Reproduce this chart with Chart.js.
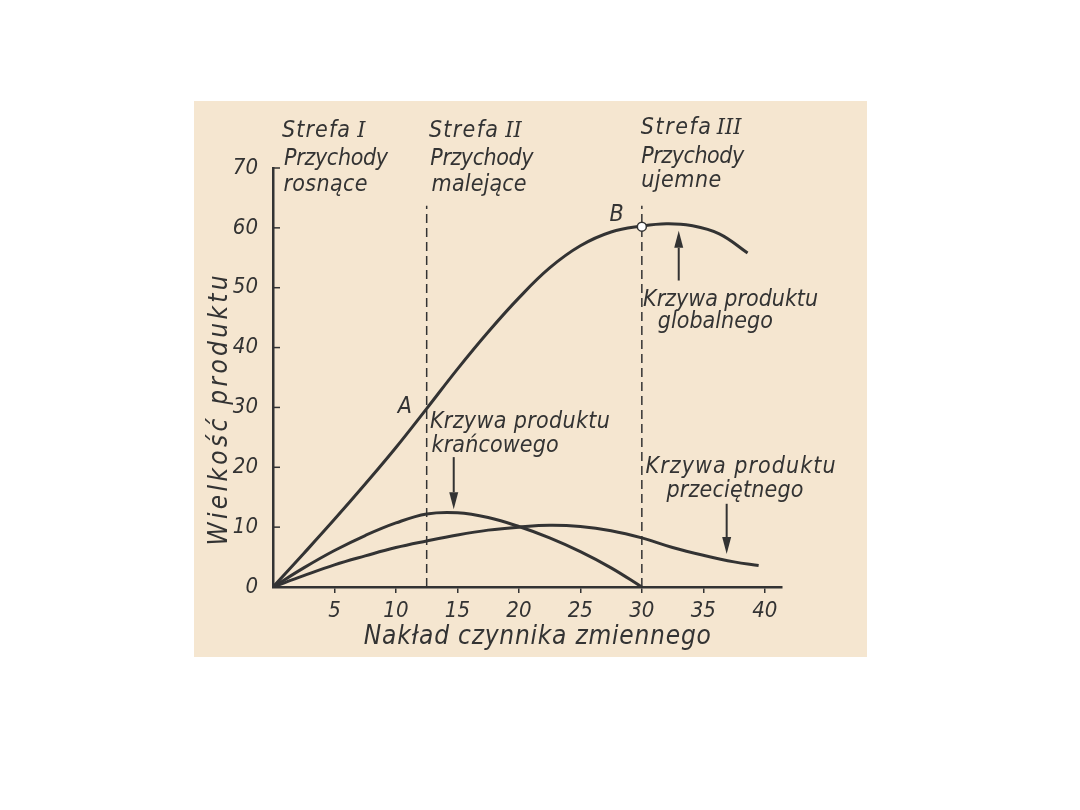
<!DOCTYPE html>
<html>
<head>
<meta charset="utf-8">
<script src="https://cdn.jsdelivr.net/npm/chart.js@4.4.1/dist/chart.umd.min.js"></script>
<style>
    html, body { margin: 0; padding: 0; background: #fff; }
    #paper { position: absolute; left: 194px; top: 101px; width: 673px; height: 556px; background: #f5e6d0; }
    #chart { position: absolute; left: 0; top: 0; }
</style>
</head>
<body>
<div id="paper"></div>
<canvas id="chart" width="1080" height="810"></canvas>
<script>
// ================= DATA =================
// krzywa produktu globalnego
const tpX = [0, 2.5, 5, 7.5, 10, 12.5, 15, 17.5, 20, 22.5, 25, 27.5, 30, 32, 34, 36.3, 38.6];
const tpY = [0, 5.6, 11.3, 17.2, 23.3, 29.8, 36.4, 42.6, 48.3, 53.3, 57.0, 59.3, 60.3, 60.7, 60.4, 59.0, 55.8];

// krzywa produktu krańcowego
const mpX = [0, 2.5, 5, 7.5, 10, 12.5, 15, 17.5, 20, 22.5, 25, 27.5, 30];
const mpY = [0, 3.2, 6.1, 8.6, 10.7, 12.2, 12.4, 11.6, 10.1, 8.2, 5.9, 3.2, 0];

// krzywa produktu przeciętnego
const apX = [0, 2.5, 5, 7.5, 10, 12.5, 15, 17.5, 20, 22.5, 25, 27.5, 30, 32.5, 35, 37.5, 39.5];
const apY = [0, 1.9, 3.7, 5.2, 6.6, 7.7, 8.7, 9.5, 10.0, 10.3, 10.1, 9.4, 8.2, 6.6, 5.3, 4.2, 3.6];

// granice stref + punkt B
const zoneX = [12.5, 30];
const zoneTop = 63.7;
const pointB = { x: 30, y: 60.2 };

// ticks
const xTickValues = [5, 10, 15, 20, 25, 30, 35, 40];
const yTickValues = [0, 10, 20, 30, 40, 50, 60, 70];

// arrows: x, from y, to y (tip)
const arrows = [
    [33.0, 51.2, 59.5],
    [14.7, 21.7, 13.0],
    [36.9, 13.9, 5.5]
];

// ================= STYLE =================
const INK = "#333";
const FONT = '"DejaVu Sans Condensed", "DejaVu Sans", sans-serif';
const SERIF = '"DejaVu Serif Condensed", "DejaVu Serif", serif';

// text: string, x (left, data), y (baseline, data), width px (0 = natural)
const texts = [
    { t: "Strefa", x: 0.73, y: 75.2, w: 68 },
    { t: "I", x: 6.85, y: 75.2, w: 0, serif: true },
    { t: "Przychody", x: 0.9, y: 70.5, w: 104 },
    { t: "rosnące", x: 0.85, y: 66.2, w: 84 },

    { t: "Strefa", x: 12.68, y: 75.2, w: 69 },
    { t: "II", x: 18.9, y: 75.2, w: 0, serif: true },
    { t: "Przychody", x: 12.8, y: 70.5, w: 103 },
    { t: "malejące", x: 12.9, y: 66.2, w: 95 },

    { t: "Strefa", x: 29.92, y: 75.7, w: 70 },
    { t: "III", x: 36.1, y: 75.7, w: 0, serif: true },
    { t: "Przychody", x: 29.95, y: 70.8, w: 103 },
    { t: "ujemne", x: 29.95, y: 66.9, w: 80 },

    { t: "B", x: 27.94, y: 61.2, w: 0, center: true },
    { t: "A", x: 10.73, y: 29.0, w: 0, center: true },

    { t: "Krzywa produktu", x: 30.1, y: 47.0, w: 175 },
    { t: "globalnego", x: 31.3, y: 43.3, w: 115 },

    { t: "Krzywa produktu", x: 12.76, y: 26.6, w: 180 },
    { t: "krańcowego", x: 12.9, y: 22.6, w: 127 },

    { t: "Krzywa produktu", x: 30.3, y: 19.1, w: 190 },
    { t: "przeciętnego", x: 32.0, y: 15.1, w: 137 },

    { t: "Nakład czynnika zmiennego", x: 21.5, y: -9.5, w: 347, center: true, size: 26 }
];
const yTitle = { t: "Wielkość produktu", x: -3.74, y: 29.5, w: 270, size: 26 };

// ================= HELPERS =================
function pts(xs, ys) {
    return xs.map((x, i) => ({ x: x, y: ys[i] }));
}

function drawFit(ctx, str, left, base, width, font) {
    ctx.font = font;
    const nat = ctx.measureText(str).width;
    const n = [...str].length;
    ctx.save();
    if (width > 0 && n > 1 && "letterSpacing" in ctx) {
        ctx.letterSpacing = ((width - nat) / (n - 1)) + "px";
    }
    ctx.textAlign = "left";
    ctx.textBaseline = "alphabetic";
    ctx.fillText(str, left, base);
    ctx.restore();
}

function arrow(ctx, px, py0, py1) {
    const dir = Math.sign(py1 - py0);
    const headLen = 17, headW = 4.5;
    ctx.beginPath();
    ctx.moveTo(px, py0);
    ctx.lineTo(px, py1 - dir * headLen);
    ctx.stroke();
    ctx.beginPath();
    ctx.moveTo(px, py1);
    ctx.lineTo(px - headW, py1 - dir * headLen);
    ctx.lineTo(px + headW, py1 - dir * headLen);
    ctx.closePath();
    ctx.fill();
}

// ================= PLUGIN =================
const annotPlugin = {
    id: "annot",
    afterDatasetsDraw(chart) {
        const { ctx, chartArea, scales: { x, y } } = chart;
        ctx.save();
        ctx.strokeStyle = INK;
        ctx.fillStyle = INK;

        // inward ticks on y axis
        ctx.lineWidth = 1.5;
        yTickValues.forEach(v => {
            if (v === 0) return;
            const py = y.getPixelForValue(v);
            ctx.beginPath();
            ctx.moveTo(chartArea.left, py);
            ctx.lineTo(chartArea.left + 7, py);
            ctx.stroke();
        });

        // arrows
        ctx.lineWidth = 2;
        arrows.forEach(a => arrow(ctx, x.getPixelForValue(a[0]), y.getPixelForValue(a[1]), y.getPixelForValue(a[2])));

        // texts
        texts.forEach(o => {
            const size = o.size || 23;
            const font = "italic " + size + "px " + (o.serif ? SERIF : FONT);
            let px = x.getPixelForValue(o.x);
            const py = y.getPixelForValue(o.y);
            if (o.center) {
                ctx.font = font;
                const w = o.w > 0 ? o.w : ctx.measureText(o.t).width;
                px -= w / 2;
            }
            drawFit(ctx, o.t, px, py, o.w, font);
        });

        // y title (rotated)
        ctx.save();
        ctx.translate(x.getPixelForValue(yTitle.x), y.getPixelForValue(yTitle.y));
        ctx.rotate(-Math.PI / 2);
        drawFit(ctx, yTitle.t, -yTitle.w / 2, 0, yTitle.w, "italic " + yTitle.size + "px " + FONT);
        ctx.restore();

        ctx.restore();
    }
};

// ================= CHART =================
const lineStyle = {
    borderColor: INK,
    borderWidth: 3,
    pointRadius: 0,
    fill: false,
    tension: 0.4
};

const dashStyle = {
    borderColor: INK,
    borderWidth: 1.5,
    borderDash: [9, 5],
    pointRadius: 0,
    fill: false
};

const tickFont = { family: FONT, size: 22, style: "italic" };

const chart = new Chart(document.getElementById("chart"), {
    type: "line",
    data: {
        datasets: [
            {
                label: "B",
                data: [pointB],
                showLine: false,
                pointRadius: 4.5,
                pointBackgroundColor: "#fff",
                pointBorderColor: INK,
                pointBorderWidth: 1.5
            },
            Object.assign({ label: "Produkt globalny", data: pts(tpX, tpY) }, lineStyle),
            Object.assign({ label: "Produkt krańcowy", data: pts(mpX, mpY) }, lineStyle),
            Object.assign({ label: "Produkt przeciętny", data: pts(apX, apY) }, lineStyle),
            Object.assign({ label: "Strefa I/II", data: pts([zoneX[0], zoneX[0]], [0, zoneTop]) }, dashStyle),
            Object.assign({ label: "Strefa II/III", data: pts([zoneX[1], zoneX[1]], [0, zoneTop]) }, dashStyle)
        ]
    },
    options: {
        responsive: false,
        animation: false,
        layout: { padding: { left: 213, right: 298, top: 168, bottom: 173 } },
        plugins: {
            legend: { display: false },
            tooltip: { enabled: false }
        },
        scales: {
            x: {
                type: "linear",
                min: 0,
                max: 41.4,
                afterBuildTicks: s => { s.ticks = xTickValues.map(v => ({ value: v })); },
                afterFit: s => { s.height = 50; },
                grid: { display: true, drawOnChartArea: false, drawTicks: true, tickLength: 6, color: INK, lineWidth: 1.5 },
                border: { display: true, color: INK, width: 2.5 },
                ticks: { font: tickFont, color: INK, padding: 5, maxRotation: 0 }
            },
            y: {
                type: "linear",
                min: 0,
                max: 70,
                afterBuildTicks: s => { s.ticks = yTickValues.map(v => ({ value: v })); },
                afterFit: s => { s.width = 60; },
                grid: { display: false, drawTicks: false },
                border: { display: true, color: INK, width: 2.5 },
                ticks: { font: tickFont, color: INK, padding: 15 }
            }
        }
    },
    plugins: [annotPlugin]
});
</script>
</body>
</html>
